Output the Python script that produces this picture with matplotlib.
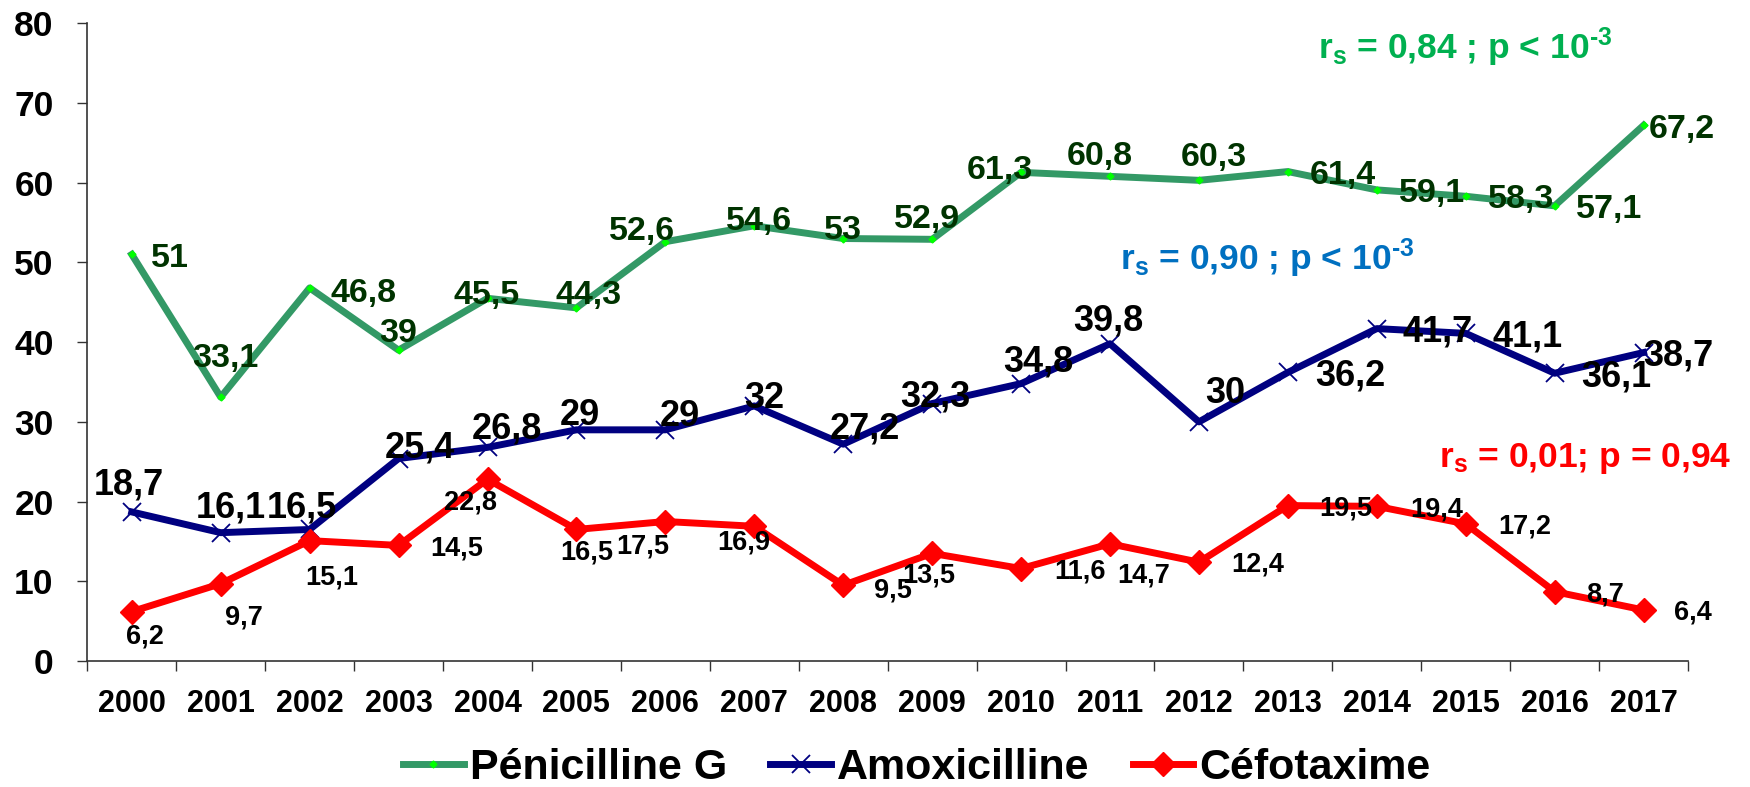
import matplotlib
matplotlib.use("Agg")
import matplotlib.pyplot as plt

plt.rcParams['font.family'] = ['Liberation Sans', 'DejaVu Sans']
plt.rcParams['font.weight'] = 'bold'
plt.rcParams['mathtext.fontset'] = 'custom'
plt.rcParams['mathtext.bf'] = 'Liberation Sans:bold'
plt.rcParams['mathtext.rm'] = 'Liberation Sans:bold'
plt.rcParams['mathtext.it'] = 'Liberation Sans:bold'

years = [str(y) for y in range(2000, 2018)]
penicilline = [51, 33.1, 46.8, 39, 45.5, 44.3, 52.6, 54.6, 53, 52.9,
               61.3, 60.8, 60.3, 61.4, 59.1, 58.3, 57.1, 67.2]
amoxicilline = [18.7, 16.1, 16.5, 25.4, 26.8, 29, 29, 32, 27.2, 32.3,
                34.8, 39.8, 30, 36.2, 41.7, 41.1, 36.1, 38.7]
cefotaxime = [6.2, 9.7, 15.1, 14.5, 22.8, 16.5, 17.5, 16.9, 9.5, 13.5,
              11.6, 14.7, 12.4, 19.5, 19.4, 17.2, 8.7, 6.4]

# label placement (pixels, right / down from the point)
pen_off = [(38, 0), (5, -42), (54, 2), (0, -20), (-1, -6), (12, -16), (-23, -14),
           (5, -8), (0, -12), (-5, -24), (-21, -6), (-10, -24), (15, -27),
           (55, 0), (55, 0), (55, 0), (54, 0), (38, 0)]
amo_off = [(-3, -30), (10, -28), (-8, -25), (21, -14), (19, -22), (3, -18), (15, -17),
           (10, -11), (22, -19), (3, -10), (17, -25), (-2, -26), (26, -32),
           (62, 0), (61, 0), (62, 0), (62, 0), (35, 0)]
cef_off = [(13, 22), (23, 31), (22, 34), (58, 0), (-17, 21), (10, 20), (-23, 22),
           (-11, 14), (50, 3), (-3, 19), (59, 0), (34, 29), (59, 0), (58, 0),
           (60, 0), (59, 0), (50, 0), (49, 0)]

fig = plt.figure(figsize=(17.5, 7.87), dpi=100)
ax = fig.add_axes([0.0499, 0.1601, 0.9147, 0.8103])

x = list(range(len(years)))
l1, = ax.plot(x, penicilline, color='#339966', lw=5, marker='D', ms=3.5,
              mfc='#00ff00', mec='#00ff00', label='Pénicilline G', zorder=3)
l2, = ax.plot(x, amoxicilline, color='#000080', lw=5, marker='x', ms=13,
              mew=1.3, label='Amoxicilline', zorder=3)
l3, = ax.plot(x, cefotaxime, color='#ff0000', lw=5, marker='D', ms=12,
              label='Céfotaxime', zorder=3)


def fmt(v):
    return ('%g' % v).replace('.', ',')


def labels(vals, offs, size, color):
    half = 0.358 * size * fig.dpi / 72
    for i, (v, (dx, dy)) in enumerate(zip(vals, offs)):
        ax.annotate(fmt(v), (i, v), xytext=(dx, -dy - half), textcoords='offset pixels',
                    ha='center', va='baseline', fontsize=size, fontweight='bold',
                    color=color, zorder=5, annotation_clip=False)


labels(penicilline, pen_off, 24.5, '#003300')
labels(amoxicilline, amo_off, 26, 'black')
labels(cefotaxime, cef_off, 19.5, 'black')

ax.text(0.769, 0.944, r'r$_{\mathbf{s}}$ = 0,84 ; p < 10$^{\text{-3}}$',
        transform=ax.transAxes, fontsize=25.5, fontweight='bold', color='#00b050',
        ha='left', va='baseline')
ax.text(0.645, 0.613, r'r$_{\mathbf{s}}$ = 0,90 ; p < 10$^{\text{-3}}$',
        transform=ax.transAxes, fontsize=25.5, fontweight='bold', color='#0070c0',
        ha='left', va='baseline')
ax.text(0.8445, 0.304, r'r$_{\mathbf{s}}$ = 0,01; p = 0,94',
        transform=ax.transAxes, fontsize=25.5, fontweight='bold', color='#ff0000',
        ha='left', va='baseline', clip_on=False)

ax.set_xlim(-0.5, len(years) - 0.5)
ax.set_ylim(0, 80)
ax.set_yticks(range(0, 81, 10))
ax.set_xticks([i - 0.5 for i in range(len(years) + 1)])
ax.set_xticklabels([])
ax.set_xticks(x, minor=True)
ax.set_xticklabels(years, minor=True)

for s in ['top', 'right']:
    ax.spines[s].set_visible(False)
for s in ['left', 'bottom']:
    ax.spines[s].set_color('#333333')
    ax.spines[s].set_linewidth(1.2)

ax.tick_params(axis='y', direction='out', length=7.2, width=1, color='#333333',
               pad=17, labelsize=25.5)
ax.tick_params(axis='x', which='major', direction='out', length=7, width=1,
               color='#333333')
ax.tick_params(axis='x', which='minor', length=0, pad=20, labelsize=22)
for t in ax.get_yticklabels() + ax.get_xticklabels(minor=True):
    t.set_fontweight('bold')

fig.legend(handles=[l1, l2, l3], loc='center', bbox_to_anchor=(917 / 1750, 1 - 768 / 787),
           ncol=3, frameon=False, prop={'size': 31, 'weight': 'bold'},
           handlelength=1.4, handletextpad=0.15, columnspacing=1.0, numpoints=1)

fig.savefig('out.png', dpi=100)
